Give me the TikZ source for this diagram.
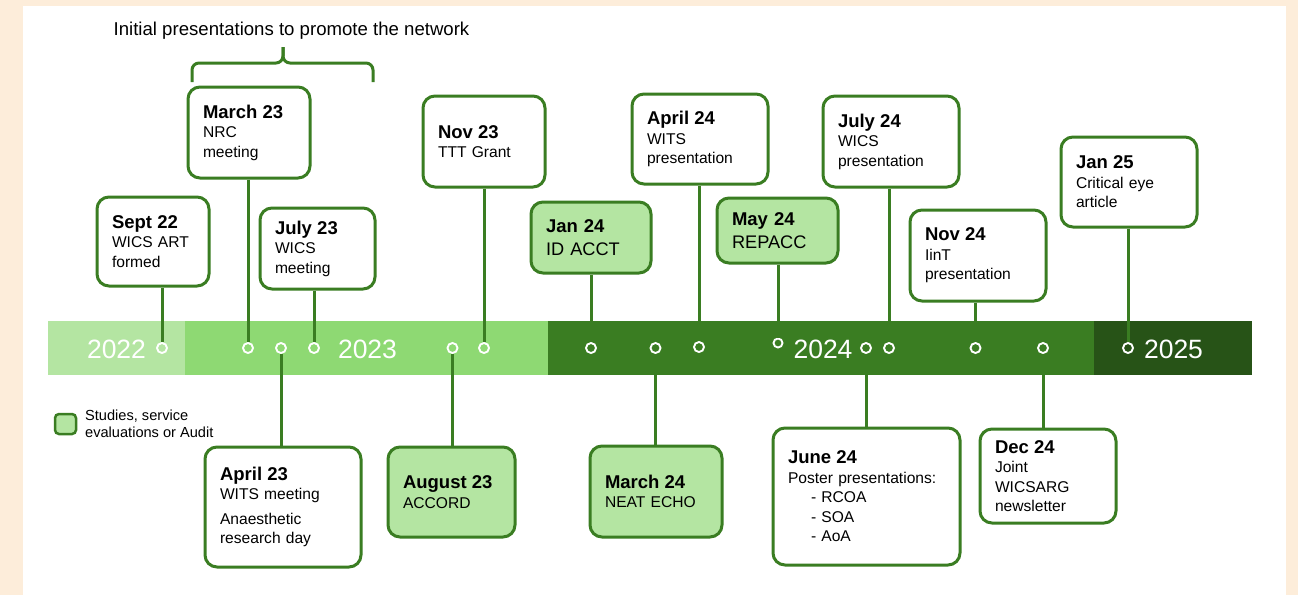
\documentclass[tikz,border=0pt]{standalone}
\usepackage{fontspec}
\setmainfont{Liberation Sans}
\definecolor{cream}{HTML}{FDEDDA}
\definecolor{gA}{HTML}{B4E5A2}
\definecolor{gB}{HTML}{8ED973}
\definecolor{gC}{HTML}{3A7D22}
\definecolor{gD}{HTML}{275317}
\newcommand{\bodyf}{\fontsize{15.6}{19.5}\selectfont}
\newcommand{\bigf}{\fontsize{18.2}{23}\selectfont}
\newcommand{\ttl}[1]{{\bfseries\fontsize{18.5}{19.5}\selectfont #1}}
\tikzset{
  evbox/.style={draw=gC, line width=3pt, rounded corners=12pt, fill=white,
    align=left, inner xsep=15pt, inner ysep=0pt, font=\bodyf},
  stbox/.style={evbox, fill=gA},
  dot/.style={circle, draw=white, line width=1.9pt, minimum size=10pt, inner sep=0pt},
  conn/.style={draw=gC, line width=3pt},
  yearlbl/.style={text=white, font=\fontsize{26.5}{30}\selectfont, anchor=base, inner sep=0pt},
}
\begin{document}
\begin{tikzpicture}[x=1pt,y=-1pt]
\useasboundingbox (0,0) rectangle (1298,595);
\fill[cream] (0,0) rectangle (1298,595);
\fill[white] (23,6) rectangle (1286,595);
% bar
\fill[gA] (48,321) rectangle (185,375);
\fill[gB] (185,321) rectangle (548,375);
\fill[gC] (548,321) rectangle (1094,375);
\fill[gD] (1094,321) rectangle (1252,375);
% years
\node[yearlbl] (y22) at (116.5,358) {2022};
\node[yearlbl] (y23) at (367.5,358) {2023};
\node[yearlbl] (y24) at (823,358) {2024};
\node[yearlbl] (y25) at (1173.5,358) {2025};
% dots
\node[dot] (c1) at (162,348) {};
\node[dot] (c2) at (248,348) {};
\node[dot] (c3) at (281,348) {};
\node[dot] (c4) at (314,348) {};
\node[dot] (c5) at (452.5,348) {};
\node[dot] (c6) at (484,348) {};
\node[dot] (c7) at (591,348) {};
\node[dot] (c8) at (655.5,348) {};
\node[dot] (c9) at (699,347) {};
\node[dot, minimum size=9pt] (c10) at (778,343) {};
\node[dot] (c11) at (866,348) {};
\node[dot] (c12) at (889,348) {};
\node[dot] (c13) at (975.5,348) {};
\node[dot] (c14) at (1043,348) {};
\node[dot] (c15) at (1128,348) {};
% title and brace
\node[anchor=base, inner sep=0pt, font=\fontsize{18.6}{22}\selectfont] (title) at (291.5,35) {Initial presentations to promote the network};
\draw[gC, line width=3pt, rounded corners=7pt] (192,82) -- (192,63) -- (283,63) -- (283,47);
\draw[gC, line width=3pt, rounded corners=7pt] (373,82) -- (373,63) -- (283,63) -- (283,47);
% boxes
\node[evbox, text width=82pt, minimum height=89pt] (sept22) at (153,241.5) {\ttl{Sept 22}\\WICS ART\\formed};
\node[evbox, text width=92pt, minimum height=91pt] (mar23) at (249,132.5) {\ttl{March 23}\\NRC\\meeting};
\node[evbox, text width=85pt, minimum height=81pt] (jul23) at (317.5,248.5) {\ttl{July 23}\\WICS\\meeting};
\node[evbox, text width=126pt, minimum height=120pt] (apr23) at (283,507) {\ttl{April 23}\\WITS meeting\\[5pt]Anaesthetic\\research day};
\node[evbox, text width=92pt, minimum height=91pt] (nov23) at (484,141.5) {\ttl{Nov 23}\\TTT Grant};
\node[stbox, text width=97pt, minimum height=90pt] (aug23) at (451.5,492) {\ttl{August 23}\\ACCORD};
\node[stbox, text width=90pt, minimum height=71pt, font=\bigf] (jan24) at (591,237.5) {\ttl{Jan 24}\\ID ACCT};
\node[evbox, text width=106pt, minimum height=90pt] (apr24) at (700,139) {\ttl{April 24}\\WITS\\presentation};
\node[stbox, text width=91pt, minimum height=65pt, font=\bigf] (may24) at (777.5,230.5) {\ttl{May 24}\\REPACC};
\node[stbox, text width=102pt, minimum height=91pt] (mar24) at (656,491.5) {\ttl{March 24}\\NEAT ECHO};
\node[evbox, text width=106pt, minimum height=91pt] (jul24) at (891,141.5) {\ttl{July 24}\\WICS\\presentation};
\node[evbox, text width=106pt, minimum height=91pt] (nov24) at (978,255.5) {\ttl{Nov 24}\\IinT\\presentation};
\node[evbox, text width=106pt, minimum height=90pt] (jan25) at (1129,182) {\ttl{Jan 25}\\Critical eye\\article};
\node[evbox, text width=157pt, minimum height=137pt] (jun24) at (866.5,496.5) {\ttl{June 24}\\Poster presentations:\\\hspace*{23pt}- RCOA\\\hspace*{23pt}- SOA\\\hspace*{23pt}- AoA};
\node[evbox, text width=106pt, minimum height=94pt] (dec24) at (1048,476) {\ttl{Dec 24}\\Joint\\WICSARG\\newsletter};
% legend
\node[draw=gC, fill=gA, line width=2.5pt, rounded corners=4pt, minimum width=21pt, minimum height=20pt, inner sep=0pt] (leg) at (65.5,424) {};
\node[anchor=base west, inner sep=0pt, align=left, font=\fontsize{14.6}{17}\selectfont] (legtxt) at (85,437) {Studies, service\\evaluations or Audit};
% connectors
\draw[conn] (sept22.south -| c1) -- (c1.north);
\draw[conn] (mar23.south -| c2) -- (c2.north);
\draw[conn] (jul23.south -| c4) -- (c4.north);
\draw[conn] (c3.south) -- (apr23.north -| c3);
\draw[conn] (nov23.south -| c6) -- (c6.north);
\draw[conn] (c5.south) -- (aug23.north -| c5);
\draw[conn] (jan24.south -| c7) -- (c7.north);
\draw[conn] (c8.south) -- (mar24.north -| c8);
\draw[conn] (apr24.south -| c9) -- (c9.north);
\draw[conn] (may24.south -| c10) -- (c10.north);
\draw[conn] (jul24.south -| c12) -- (c12.north);
\draw[conn] (c11.south) -- (jun24.north -| c11);
\draw[conn] (nov24.south -| c13) -- (c13.north);
\draw[conn] (c14.south) -- (dec24.north -| c14);
\draw[conn] (jan25.south -| c15) -- (c15.north);
\end{tikzpicture}
\end{document}
